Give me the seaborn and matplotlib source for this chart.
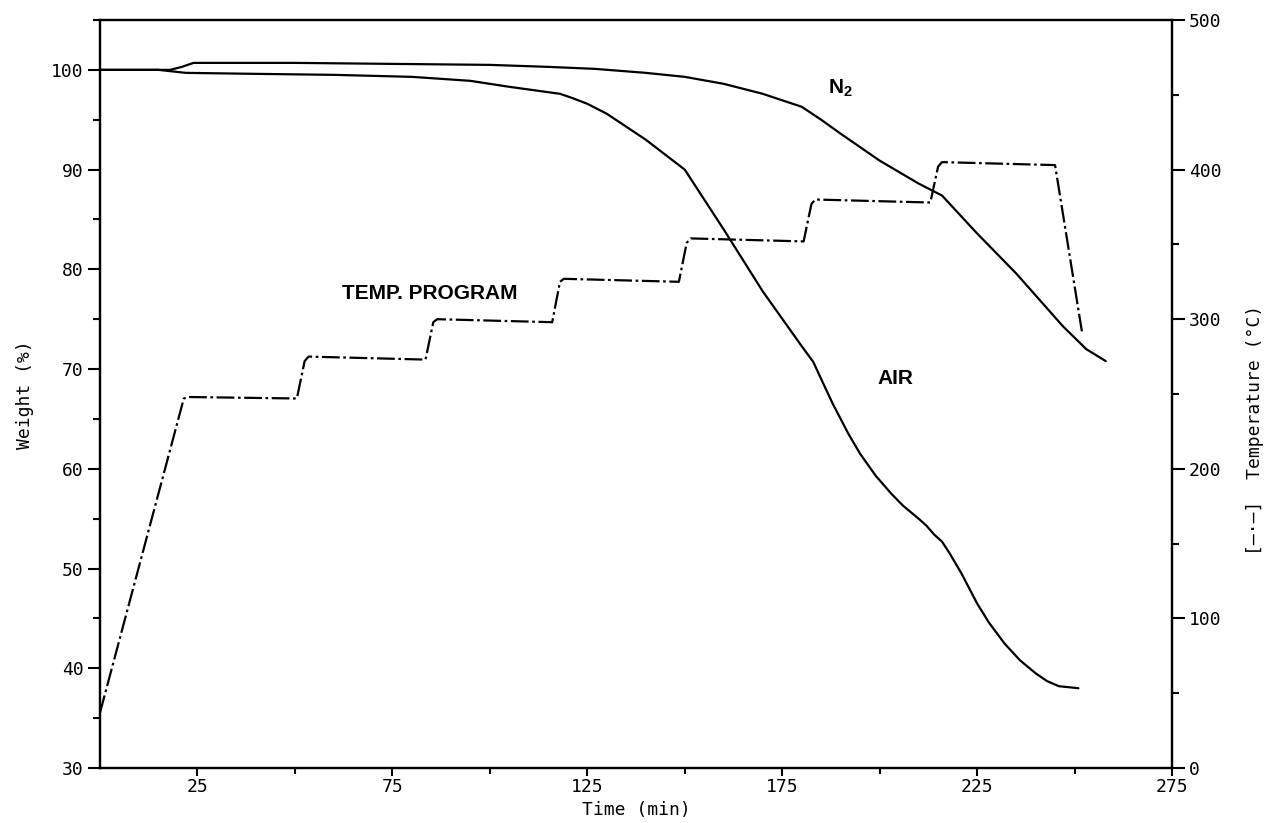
import matplotlib
matplotlib.use("Agg")
import matplotlib.pyplot as plt
from matplotlib.ticker import FixedLocator, MultipleLocator
import pandas as pd
import seaborn as sns

# Thermogravimetric runs: weight (%) against time (min)
air_time = [0, 15, 22, 40, 60, 80, 95, 105, 118, 121, 125, 130, 135, 140, 145,
            150, 160, 170, 180, 183, 185, 188, 192, 195, 199, 203, 206, 210,
            212, 214, 216, 218, 221, 225, 228, 232, 236, 240, 243, 246, 251]
air_weight = [100, 100, 99.7, 99.6, 99.5, 99.3, 98.9, 98.3, 97.6, 97.2, 96.6,
              95.6, 94.3, 93.0, 91.5, 90.0, 84.0, 77.8, 72.3, 70.7, 69.0,
              66.5, 63.5, 61.5, 59.3, 57.5, 56.3, 55.0, 54.3, 53.4, 52.7, 51.5,
              49.5, 46.5, 44.6, 42.5, 40.8, 39.5, 38.7, 38.2, 38.0]

n2_time = [0, 18, 21, 24, 50, 75, 100, 115, 127, 140, 150, 160, 170, 180, 185,
           190, 200, 210, 216, 225, 235, 247, 253, 258]
n2_weight = [100, 100, 100.3, 100.7, 100.7, 100.6, 100.5, 100.3, 100.1, 99.7,
             99.3, 98.6, 97.6, 96.3, 95.0, 93.6, 90.9, 88.6, 87.4, 83.6, 79.6,
             74.3, 72.0, 70.8]

# Stepwise oven temperature program (°C)
temp_time = [0, 21.5, 22.5, 50.5, 52.5, 53.5, 83.5, 85.5, 86.5, 116, 118, 119,
             148.5, 150.5, 151.5, 180.5, 182.5, 183.5, 213, 215, 216, 245, 252]
temp_value = [37, 247, 248, 247, 272, 275, 273, 298, 300, 298, 325, 327, 325,
              351, 354, 352, 377, 380, 378, 402, 405, 403, 290]

x_major = [25, 75, 125, 175, 225, 275]
x_minor = [50, 100, 150, 200, 250]

sns.set_theme(style="white")
plt.rcParams["font.family"] = ["DejaVu Sans"]
plt.rcParams["text.color"] = "black"
plt.rcParams["xtick.color"] = "black"
plt.rcParams["ytick.color"] = "black"
plt.rcParams["mathtext.fontset"] = "custom"
plt.rcParams["mathtext.bf"] = "Liberation Sans:bold"
plt.rcParams["mathtext.rm"] = "Liberation Sans:bold"

fig = plt.figure(figsize=(12.7, 8.23), dpi=100)
ax = fig.add_axes([100 / 1270, 55 / 823, 1072 / 1270, 748 / 823])
ax2 = ax.twinx()

air = pd.DataFrame({"t": air_time, "w": air_weight})
n2 = pd.DataFrame({"t": n2_time, "w": n2_weight})
prog = pd.DataFrame({"t": temp_time, "T": temp_value})

sns.lineplot(data=air, x="t", y="w", ax=ax, color="black", lw=1.6,
             estimator=None, sort=False)
sns.lineplot(data=n2, x="t", y="w", ax=ax, color="black", lw=1.6,
             estimator=None, sort=False)
sns.lineplot(data=prog, x="t", y="T", ax=ax2, color="black", lw=1.6,
             estimator=None, sort=False)
ax2.lines[0].set_dashes([8, 1.6, 1.2, 1.6])

ax.set_xlim(0, 275)
ax.set_ylim(30, 105)
ax2.set_ylim(0, 500)

ax.xaxis.set_major_locator(FixedLocator(x_major))
ax.xaxis.set_minor_locator(FixedLocator(x_minor))
ax.yaxis.set_major_locator(MultipleLocator(10))
ax.yaxis.set_minor_locator(MultipleLocator(5))
ax2.yaxis.set_major_locator(MultipleLocator(100))
ax2.yaxis.set_minor_locator(MultipleLocator(50))

ax.tick_params(axis="x", which="major", direction="out", length=6,
               width=1.5, labelsize=13, pad=1, bottom=True, top=False,
               labelcolor="black")
ax.tick_params(axis="x", which="minor", direction="out", length=4,
               width=1.5, bottom=True)
ax.tick_params(axis="y", which="major", direction="out", length=9,
               width=1.5, labelsize=13, pad=3, left=True, right=False,
               labelcolor="black")
ax.tick_params(axis="y", which="minor", direction="out", length=5,
               width=1.5, left=True)
ax2.tick_params(axis="y", which="major", direction="out", length=9,
                width=1.5, labelsize=13, pad=3, right=True,
                labelcolor="black")
ax2.tick_params(axis="y", which="minor", direction="out", length=5,
                width=1.5, right=True)

for a in (ax, ax2):
    for lab in a.get_xticklabels() + a.get_yticklabels():
        lab.set_fontfamily("DejaVu Sans Mono")
    for sp in a.spines.values():
        sp.set_visible(True)
        sp.set_color("black")
        sp.set_linewidth(1.6)

ax.grid(False)
ax2.grid(False)
ax.set_xlabel("")
ax.set_ylabel("")
ax2.set_ylabel("")

label_font = dict(family="DejaVu Sans Mono", size=13, color="black")
fig.text(636 / 1270, 1 - 810 / 823, "Time (min)", ha="center", va="center",
         **label_font)
fig.text(25 / 1270, 1 - 395 / 823, "Weight (%)", ha="center", va="center",
         rotation=90, **label_font)
fig.text(1255 / 1270, 1 - 430 / 823, "[—·—]  Temperature (°C)", ha="center",
         va="center", rotation=90, **label_font)

ann = dict(fontsize=15, fontweight="bold", family="Liberation Sans",
           color="black", ha="center", va="center")
ax.text(190, 98.2, r"N$_2$", **ann)
ax.text(84.5, 77.6, "TEMP. PROGRAM", **ann)
ax.text(204, 69.1, "AIR", **ann)

fig.savefig("out.png", dpi=100, facecolor="white")
